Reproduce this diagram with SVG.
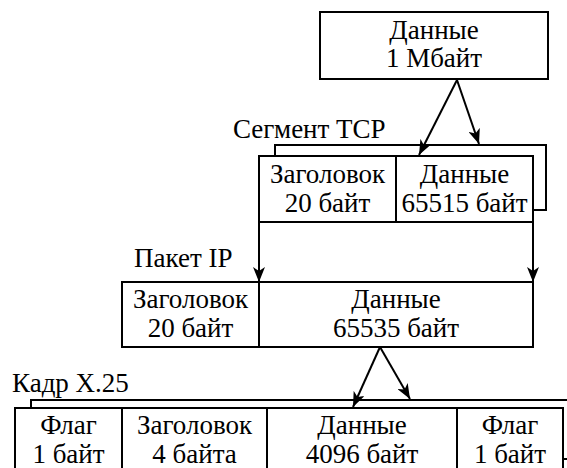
<svg xmlns="http://www.w3.org/2000/svg" width="567" height="468" viewBox="0 0 567 468">
<defs>
<style>
.b{fill:#fff;stroke:#000;stroke-width:2}
.l{fill:none;stroke:#000;stroke-width:2}
text{font-family:'Liberation Serif','Times New Roman',serif;font-size:27px;fill:#000}
.c{text-anchor:middle}
</style>
<marker id="ah" viewBox="0 0 15 12" refX="15" refY="6" markerWidth="15" markerHeight="12" markerUnits="userSpaceOnUse" orient="auto">
<path d="M0,0 L15,6 L0,12 L4,6 Z" fill="#000"/>
</marker>
</defs>
<g id="data1M">
<rect class="b" x="320" y="12" width="228" height="67"/>
<text class="c" x="434" y="39">Данные</text>
<text class="c" x="434" y="67">1 Мбайт</text>
</g>
<g id="tcp">
<text x="233" y="138">Сегмент TCP</text>
<path class="l" d="M275,156 V145 H546 V210 H533"/>
<rect class="b" x="259" y="156" width="274" height="66"/>
<line class="l" x1="396" y1="156" x2="396" y2="222"/>
<text class="c" x="327.5" y="183">Заголовок</text>
<text class="c" x="327.5" y="212">20 байт</text>
<text class="c" x="464.5" y="183">Данные</text>
<text class="c" x="464.5" y="212">65515 байт</text>
</g>
<g id="ip">
<text x="134" y="267">Пакет IP</text>
<rect class="b" x="122" y="282" width="411" height="65"/>
<line class="l" x1="259" y1="282" x2="259" y2="347"/>
<text class="c" x="190.5" y="308">Заголовок</text>
<text class="c" x="190.5" y="337">20 байт</text>
<text class="c" x="396" y="308">Данные</text>
<text class="c" x="396" y="337">65535 байт</text>
</g>
<g id="x25">
<text x="12" y="392">Кадр X.25</text>
<path class="l" d="M31,408 V400 H570 V459 H563"/>
<path class="l" d="M15,470 V408 H563 V470"/>
<line class="l" x1="122" y1="408" x2="122" y2="470"/>
<line class="l" x1="267" y1="408" x2="267" y2="470"/>
<line class="l" x1="457" y1="408" x2="457" y2="470"/>
<text class="c" x="68.5" y="434">Флаг</text>
<text class="c" x="68.5" y="463">1 байт</text>
<text class="c" x="194.5" y="434">Заголовок</text>
<text class="c" x="194.5" y="463">4 байта</text>
<text class="c" x="362" y="434">Данные</text>
<text class="c" x="362" y="463">4096 байт</text>
<text class="c" x="510" y="434">Флаг</text>
<text class="c" x="510" y="463">1 байт</text>
</g>
<g id="connectors">
<line class="l" x1="457" y1="80" x2="419" y2="155" marker-end="url(#ah)"/>
<line class="l" x1="457" y1="80" x2="479" y2="144" marker-end="url(#ah)"/>
<line class="l" x1="259" y1="222" x2="259" y2="282" marker-end="url(#ah)"/>
<line class="l" x1="533" y1="222" x2="533" y2="282" marker-end="url(#ah)"/>
<line class="l" x1="380" y1="347" x2="353" y2="407" marker-end="url(#ah)"/>
<line class="l" x1="380" y1="347" x2="410" y2="399" marker-end="url(#ah)"/>
</g>
</svg>
